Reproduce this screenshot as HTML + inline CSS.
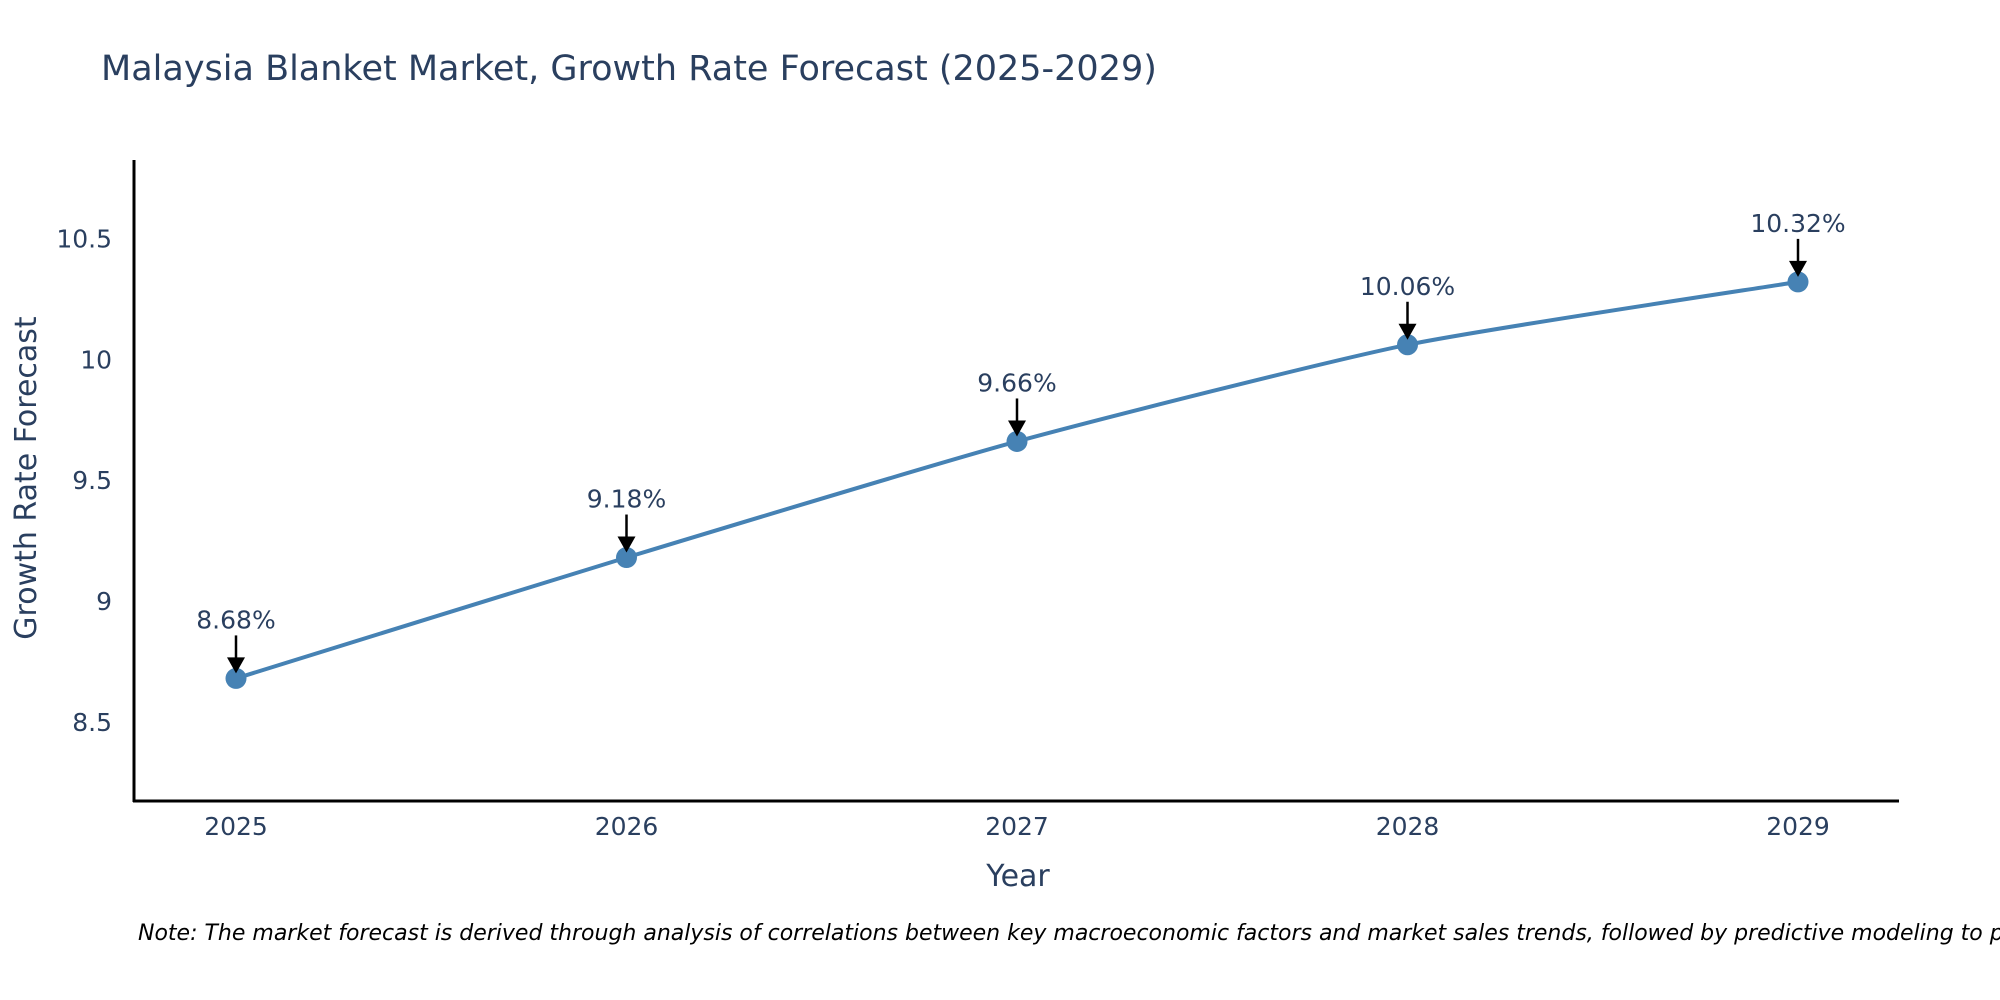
<!DOCTYPE html>
<html><head><meta charset="utf-8">
<style>
html,body{margin:0;padding:0;background:#fff;width:2000px;height:1000px;overflow:hidden}
svg{display:block}
text{font-family:"DejaVu Sans","Liberation Sans",sans-serif;fill:#2a3f5f}
</style></head>
<body>
<svg id="chart" width="2000" height="1000">
<text x="101" y="80" font-size="35">Malaysia Blanket Market, Growth Rate Forecast (2025-2029)</text>
<g id="yticks"></g>
<g id="xticks"></g>
<line x1="134" y1="160" x2="134" y2="802" stroke="#000" stroke-width="3"/>
<line x1="133" y1="801" x2="1899" y2="801" stroke="#000" stroke-width="3"/>
<text x="0" y="0" font-size="30" text-anchor="middle" transform="translate(36,478) rotate(-90)">Growth Rate Forecast</text>
<text x="1018" y="886" font-size="30" text-anchor="middle">Year</text>
<g id="series"></g>
<text x="138" y="940" font-size="22" font-style="italic" style="fill:#000">Note: The market forecast is derived through analysis of correlations between key macroeconomic factors and market sales trends, followed by predictive modeling to project future sales.</text>
</svg>
<script>
const years = [2025, 2026, 2027, 2028, 2029];
const growth = [8.68, 9.18, 9.66, 10.06, 10.32];
const yTickVals = [8.5, 9, 9.5, 10, 10.5];
const yTickLabels = ["8.5", "9", "9.5", "10", "10.5"];

const NS = "http://www.w3.org/2000/svg";
const X0 = 236, X1 = 1798, Y_MIN = 8.173, Y_MAX = 10.82, PT = 161, PB = 801;
function xs(v){ return X0 + (v - years[0]) / (years[years.length-1] - years[0]) * (X1 - X0); }
function ys(v){ return PB - (v - Y_MIN) / (Y_MAX - Y_MIN) * (PB - PT); }
function mk(tag, attrs){ const e = document.createElementNS(NS, tag); for (const k in attrs) e.setAttribute(k, attrs[k]); return e; }

const yg = document.getElementById('yticks');
yTickVals.forEach((v, i) => {
  const t = mk('text', {x: 112, y: ys(v) + 9, 'font-size': 25, 'text-anchor': 'end'});
  t.textContent = yTickLabels[i];
  
  
  yg.appendChild(t);
});
const xg = document.getElementById('xticks');
years.forEach(v => {
  const t = mk('text', {x: xs(v), y: 835, 'font-size': 25, 'text-anchor': 'middle'});
  t.textContent = String(v);
  
  
  xg.appendChild(t);
});

const sg = document.getElementById('series');
const pts = years.map((y, i) => [xs(y), ys(growth[i])]);
let d = `M${pts[0][0]},${pts[0][1]}`;
for (let i = 0; i < pts.length - 1; i++) {
  const p0 = pts[Math.max(0, i-1)], p1 = pts[i], p2 = pts[i+1], p3 = pts[Math.min(pts.length-1, i+2)];
  const s = 0.1;
  const c1 = [p1[0] + (p2[0]-p0[0])*s, p1[1] + (p2[1]-p0[1])*s];
  const c2 = [p2[0] - (p3[0]-p1[0])*s, p2[1] - (p3[1]-p1[1])*s];
  d += ` C${c1[0]},${c1[1]} ${c2[0]},${c2[1]} ${p2[0]},${p2[1]}`;
}
const path = mk('path', {d: d, fill: 'none', stroke: '#4682B4', 'stroke-width': 4});


sg.appendChild(path);

pts.forEach((p, i) => {
  const c = mk('circle', {cx: p[0], cy: p[1], r: 10.5, fill: '#4682B4'});
  
  
  sg.appendChild(c);
  const ln = mk('line', {x1: p[0], y1: p[1] - 43, x2: p[0], y2: p[1] - 18, stroke: '#000', 'stroke-width': 2.5});
  
  
  sg.appendChild(ln);
  const head = mk('path', {d: `M${p[0]-9},${p[1]-21} L${p[0]+9},${p[1]-21} L${p[0]},${p[1]-5} Z`, fill: '#000'});
  
  
  sg.appendChild(head);
  const t = mk('text', {x: p[0], y: p[1] - 50, 'font-size': 25, 'text-anchor': 'middle'});
  t.textContent = growth[i].toFixed(2) + '%';
  
  
  sg.appendChild(t);
});
</script>
</body></html>
